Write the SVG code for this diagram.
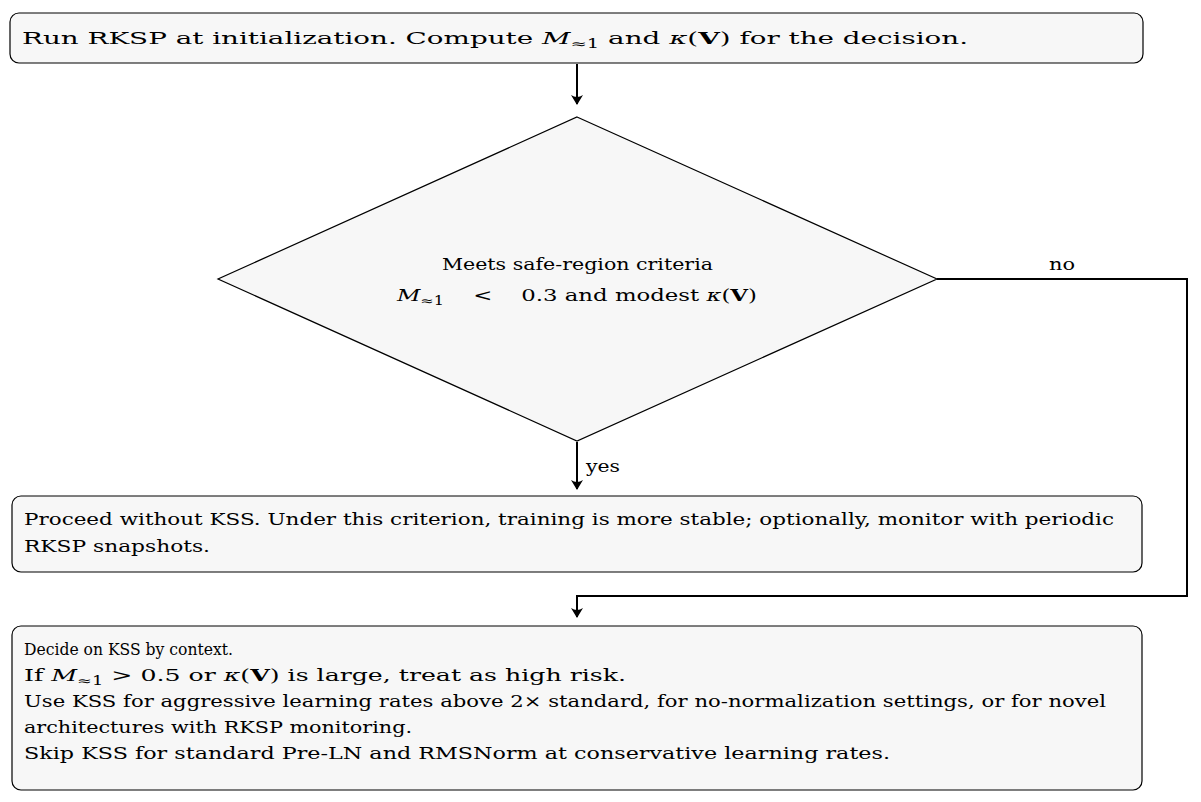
<svg xmlns="http://www.w3.org/2000/svg" width="1201" height="802" viewBox="0 0 1201 802">
<style>
.box{fill:#f7f7f7;stroke:#000;stroke-width:1.2}
text{font-family:"DejaVu Serif","Liberation Serif",serif;font-size:17px;fill:#000}
.it{font-style:italic}
.b{font-weight:bold}
.c{fill:none;stroke:#000;stroke-width:2}
</style>
<defs><marker id="a" markerWidth="10" markerHeight="12" refX="9" refY="6" orient="auto" markerUnits="userSpaceOnUse"><path d="M0,0 Q4,6 0,12 L10,6 Z" fill="#000"/></marker></defs>
<rect width="1201" height="802" fill="#fff"/>
<g id="connectors">
<path class="c" d="M577,64 V104" marker-end="url(#a)"/>
<path class="c" d="M577,442 V489" marker-end="url(#a)"/>
<path class="c" d="M937,279 H1187 V596 H577 V617" marker-end="url(#a)"/>
<text x="1049" y="270" textLength="26" lengthAdjust="spacingAndGlyphs">no</text>
<text x="586" y="472" textLength="34" lengthAdjust="spacingAndGlyphs">yes</text>
</g>
<g id="n1"><rect class="box" x="10" y="13" width="1133" height="50" rx="9"/>
<text x="22" y="44" textLength="946" lengthAdjust="spacingAndGlyphs">Run RKSP at initialization. Compute <tspan class="it">M</tspan><tspan font-size="12" dy="4">≈1</tspan><tspan dy="-4"> and </tspan><tspan class="it">κ</tspan>(<tspan class="b">V</tspan>) for the decision.</text></g>
<g id="n2"><path class="box" d="M577,117 L937,279 L577,441 L218,279 Z"/>
<text x="442" y="270" textLength="271" lengthAdjust="spacingAndGlyphs">Meets safe-region criteria</text>
<text x="397" y="301" textLength="360" lengthAdjust="spacingAndGlyphs"><tspan class="it">M</tspan><tspan font-size="12" dy="4">≈1</tspan><tspan dy="-4" xml:space="preserve">    &lt;    0.3 and modest </tspan><tspan class="it">κ</tspan>(<tspan class="b">V</tspan>)</text></g>
<g id="n3"><rect class="box" x="12" y="496" width="1130" height="76" rx="9"/>
<text x="24" y="525" textLength="1090" lengthAdjust="spacingAndGlyphs">Proceed without KSS. Under this criterion, training is more stable; optionally, monitor with periodic</text>
<text x="24" y="552" textLength="186" lengthAdjust="spacingAndGlyphs">RKSP snapshots.</text></g>
<g id="n4"><rect class="box" x="12" y="626" width="1130" height="164" rx="9"/>
<text x="24" y="655" textLength="209" lengthAdjust="spacingAndGlyphs">Decide on KSS by context.</text>
<text x="24" y="681" textLength="602" lengthAdjust="spacingAndGlyphs">If <tspan class="it">M</tspan><tspan font-size="12" dy="4">≈1</tspan><tspan dy="-4"> &gt; 0.5 or </tspan><tspan class="it">κ</tspan>(<tspan class="b">V</tspan>) is large, treat as high risk.</text>
<text x="24" y="707" textLength="1082" lengthAdjust="spacingAndGlyphs">Use KSS for aggressive learning rates above 2× standard, for no-normalization settings, or for novel</text>
<text x="24" y="733" textLength="388" lengthAdjust="spacingAndGlyphs">architectures with RKSP monitoring.</text>
<text x="24" y="759" textLength="866" lengthAdjust="spacingAndGlyphs">Skip KSS for standard Pre-LN and RMSNorm at conservative learning rates.</text></g>
</svg>
